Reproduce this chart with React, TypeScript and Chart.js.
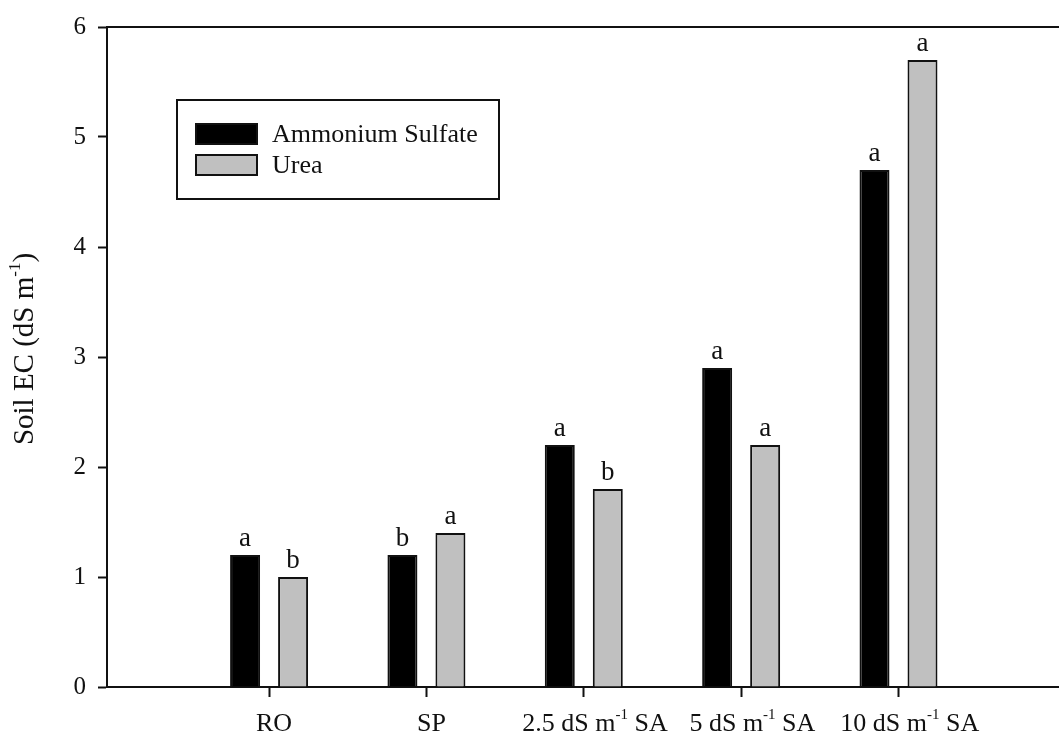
import React, { useEffect, useRef } from 'react';
import { Chart, registerables } from 'chart.js';

Chart.register(...registerables);

// ---------- data ----------
const categories = ['RO', 'SP', '2.5 dS m^{-1} SA', '5 dS m^{-1} SA', '10 dS m^{-1} SA'];
const categoryPositions = [1, 2, 3, 4, 5];
const ammoniumSulfate = [1.2, 1.2, 2.2, 2.9, 4.7];
const urea = [1.0, 1.4, 1.8, 2.2, 5.7];
const ammoniumLetters = ['a', 'b', 'a', 'a', 'a'];
const ureaLetters = ['b', 'a', 'b', 'a', 'a'];
const seriesNames = ['Ammonium Sulfate', 'Urea'];
const seriesColors = ['#000000', '#c0c0c0'];
const yTitle = 'Soil EC (dS m^{-1})';
const yMin = 0;
const yMax = 6;
const yStep = 1;

const FONT = '"Liberation Serif", "Times New Roman", serif';
const INK = '#111111';

type Seg = { t: string; sup: boolean };
function parseRich(s: string): Seg[] {
  const out: Seg[] = [];
  const re = /\^\{([^}]*)\}/g;
  let last = 0;
  let m: RegExpExecArray | null;
  while ((m = re.exec(s)) !== null) {
    if (m.index > last) out.push({ t: s.slice(last, m.index), sup: false });
    out.push({ t: m[1], sup: true });
    last = m.index + m[0].length;
  }
  if (last < s.length) out.push({ t: s.slice(last), sup: false });
  return out;
}

function drawRich(
  ctx: CanvasRenderingContext2D,
  text: string,
  cx: number,
  baseline: number,
  size: number,
  supSize: number,
  supRise: number,
  ignoreSupInCentering = false,
) {
  const segs = parseRich(text);
  const widths = segs.map((s) => {
    ctx.font = `${s.sup ? supSize : size}px ${FONT}`;
    return ctx.measureText(s.t).width;
  });
  const total = widths.reduce((a, b) => a + b, 0);
  const supW = segs.reduce((a, s, i) => a + (s.sup ? widths[i] : 0), 0);
  let x = cx - (ignoreSupInCentering ? total - supW : total) / 2;
  ctx.textAlign = 'left';
  ctx.textBaseline = 'alphabetic';
  segs.forEach((s, i) => {
    ctx.font = `${s.sup ? supSize : size}px ${FONT}`;
    ctx.fillText(s.t, x, s.sup ? baseline - supRise : baseline);
    x += widths[i];
  });
}

const decorations = {
  id: 'decorations',
  afterDraw(chart: any) {
    const ctx: CanvasRenderingContext2D = chart.ctx;
    const area = chart.chartArea;
    const xs = chart.scales.x;
    ctx.save();
    ctx.fillStyle = INK;
    ctx.strokeStyle = INK;

    // top frame line
    ctx.lineWidth = 2;
    ctx.beginPath();
    ctx.moveTo(area.left - 1, area.top);
    ctx.lineTo(area.right, area.top);
    ctx.stroke();

    // x category labels
    categories.forEach((c, i) => {
      const px = xs.getPixelForValue(categoryPositions[i]);
      drawRich(ctx, c, px + 5, area.bottom + 44, 26, 15, 12, true);
    });

    // y title
    ctx.save();
    ctx.translate(33, (area.top + area.bottom) / 2 - 8);
    ctx.rotate(-Math.PI / 2);
    drawRich(ctx, yTitle, 0, 0, 29, 17, 13);
    ctx.restore();

    // significance letters
    const letters = [ammoniumLetters, ureaLetters];
    letters.forEach((arr, di) => {
      const meta = chart.getDatasetMeta(di);
      meta.data.forEach((bar: any, i: number) => {
        ctx.font = `27px ${FONT}`;
        ctx.textAlign = 'center';
        ctx.textBaseline = 'alphabetic';
        ctx.fillText(arr[i], bar.x, bar.y - 9);
      });
    });

    // legend
    const bx = area.left + 70;
    const by = area.top + 73;
    const bw = 322;
    const bh = 99;
    ctx.fillStyle = '#ffffff';
    ctx.fillRect(bx, by, bw, bh);
    ctx.lineWidth = 2;
    ctx.strokeStyle = INK;
    ctx.strokeRect(bx, by, bw, bh);
    seriesNames.forEach((name, i) => {
      const sy = by + 24 + i * 31;
      ctx.fillStyle = seriesColors[i];
      ctx.fillRect(bx + 19, sy, 61, 20);
      ctx.lineWidth = 2;
      ctx.strokeStyle = INK;
      ctx.strokeRect(bx + 19, sy, 61, 20);
      ctx.fillStyle = INK;
      ctx.font = `26px ${FONT}`;
      ctx.textAlign = 'left';
      ctx.textBaseline = 'middle';
      ctx.fillText(name, bx + 95, sy + 11);
    });

    ctx.restore();
  },
};

export default function App() {
  const ref = useRef<HTMLCanvasElement | null>(null);
  useEffect(() => {
    if (!ref.current) return;
    const chart = new Chart(ref.current, {
      type: 'bar',
      data: {
        datasets: [
          {
            label: seriesNames[0],
            data: categoryPositions.map((x, i) => ({ x, y: ammoniumSulfate[i] })),
            backgroundColor: seriesColors[0],
            borderColor: INK,
            borderWidth: 2,
          },
          {
            label: seriesNames[1],
            data: categoryPositions.map((x, i) => ({ x, y: urea[i] })),
            backgroundColor: seriesColors[1],
            borderColor: INK,
            borderWidth: 2,
          },
        ],
      } as any,
      options: {
        animation: false,
        responsive: false,
        maintainAspectRatio: false,
        categoryPercentage: 0.61,
        barPercentage: 0.625,
        layout: { padding: { top: 16, right: 0, left: 0, bottom: 0 } },
        plugins: {
          legend: { display: false },
          tooltip: { enabled: false },
          title: { display: false },
        },
        scales: {
          x: {
            type: 'linear',
            min: -0.03,
            max: 6.02,
            offset: false,
            grid: {
              display: true,
              drawOnChartArea: false,
              drawTicks: true,
              tickLength: 10,
              tickColor: INK,
              tickWidth: 2,
              offset: false,
            },
            border: { display: true, color: INK, width: 2 },
            ticks: { display: false },
            afterBuildTicks: (s: any) => {
              s.ticks = categoryPositions.map((v) => ({ value: v }));
            },
            afterFit: (s: any) => {
              s.height = 51;
            },
          },
          y: {
            min: yMin,
            max: yMax,
            ticks: {
              stepSize: yStep,
              font: { family: FONT, size: 25 },
              color: INK,
              padding: 12,
            },
            grid: {
              display: true,
              drawOnChartArea: false,
              drawTicks: true,
              tickLength: 9,
              tickColor: INK,
              tickWidth: 2,
            },
            border: { display: true, color: INK, width: 2 },
            afterFit: (s: any) => {
              s.width = 107;
            },
          },
        },
      } as any,
      plugins: [decorations],
    });
    return () => chart.destroy();
  }, []);

  return (
    <div style={{ position: 'fixed', left: 0, top: 0, width: 1059, height: 738, background: '#fff' }}>
      <canvas ref={ref} width={1059} height={738} style={{ display: 'block', width: 1059, height: 738 }} />
    </div>
  );
}
